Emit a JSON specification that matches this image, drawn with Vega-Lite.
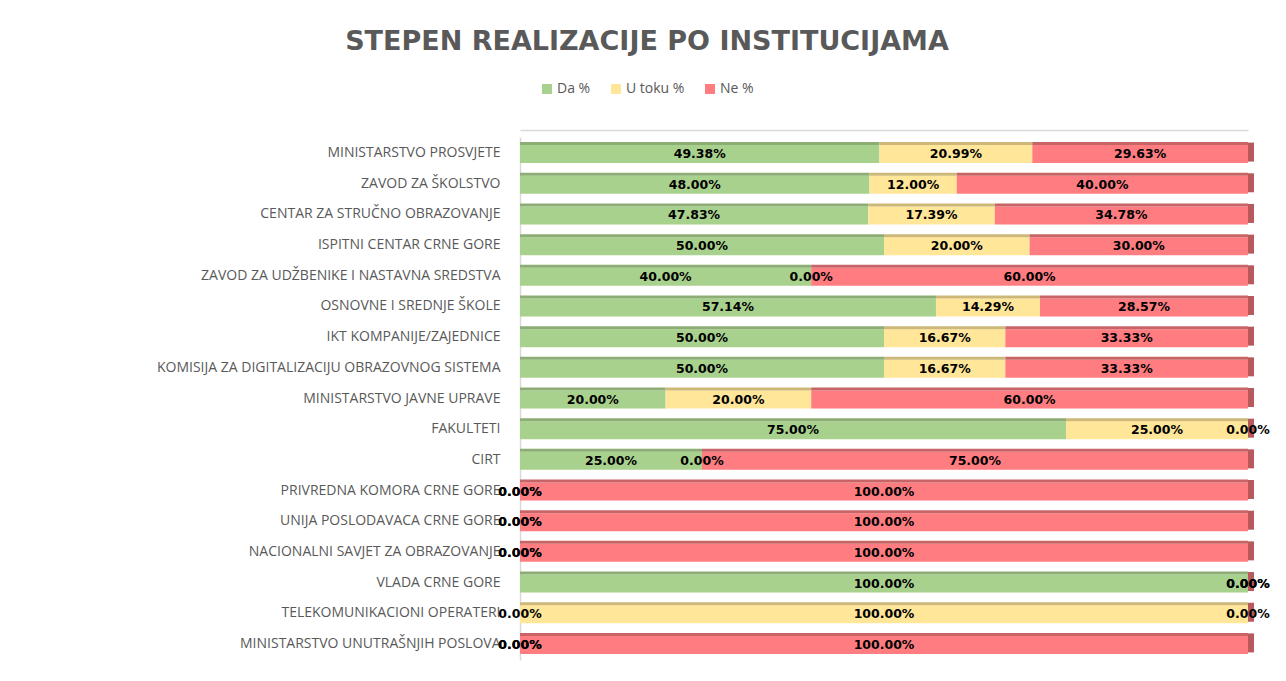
{
  "$schema": "https://vega.github.io/schema/vega-lite/v6.json",
  "autosize": "none",
  "width": 728,
  "height": 523,
  "padding": {"left": 520, "top": 137, "right": 38, "bottom": 21},
  "background": "white",
  "config": {"view": {"stroke": null}},
  "title": {
    "text": "STEPEN REALIZACIJE PO INSTITUCIJAMA",
    "font": "DejaVu Sans",
    "fontSize": 27,
    "fontWeight": "bold",
    "color": "#595959",
    "anchor": "middle",
    "frame": "group",
    "dx": -237,
    "offset": 26
  },
  "data": {"values": [
    {"inst": "MINISTARSTVO PROSVJETE", "series": "Da %", "ord": 1, "v": 0.4938},
    {"inst": "MINISTARSTVO PROSVJETE", "series": "U toku %", "ord": 2, "v": 0.2099},
    {"inst": "MINISTARSTVO PROSVJETE", "series": "Ne %", "ord": 3, "v": 0.2963},
    {"inst": "ZAVOD ZA ŠKOLSTVO", "series": "Da %", "ord": 1, "v": 0.48},
    {"inst": "ZAVOD ZA ŠKOLSTVO", "series": "U toku %", "ord": 2, "v": 0.12},
    {"inst": "ZAVOD ZA ŠKOLSTVO", "series": "Ne %", "ord": 3, "v": 0.40},
    {"inst": "CENTAR ZA STRUČNO OBRAZOVANJE", "series": "Da %", "ord": 1, "v": 0.4783},
    {"inst": "CENTAR ZA STRUČNO OBRAZOVANJE", "series": "U toku %", "ord": 2, "v": 0.1739},
    {"inst": "CENTAR ZA STRUČNO OBRAZOVANJE", "series": "Ne %", "ord": 3, "v": 0.3478},
    {"inst": "ISPITNI CENTAR CRNE GORE", "series": "Da %", "ord": 1, "v": 0.50},
    {"inst": "ISPITNI CENTAR CRNE GORE", "series": "U toku %", "ord": 2, "v": 0.20},
    {"inst": "ISPITNI CENTAR CRNE GORE", "series": "Ne %", "ord": 3, "v": 0.30},
    {"inst": "ZAVOD ZA UDŽBENIKE I NASTAVNA SREDSTVA", "series": "Da %", "ord": 1, "v": 0.40},
    {"inst": "ZAVOD ZA UDŽBENIKE I NASTAVNA SREDSTVA", "series": "U toku %", "ord": 2, "v": 0.0},
    {"inst": "ZAVOD ZA UDŽBENIKE I NASTAVNA SREDSTVA", "series": "Ne %", "ord": 3, "v": 0.60},
    {"inst": "OSNOVNE I SREDNJE ŠKOLE", "series": "Da %", "ord": 1, "v": 0.5714},
    {"inst": "OSNOVNE I SREDNJE ŠKOLE", "series": "U toku %", "ord": 2, "v": 0.1429},
    {"inst": "OSNOVNE I SREDNJE ŠKOLE", "series": "Ne %", "ord": 3, "v": 0.2857},
    {"inst": "IKT KOMPANIJE/ZAJEDNICE", "series": "Da %", "ord": 1, "v": 0.50},
    {"inst": "IKT KOMPANIJE/ZAJEDNICE", "series": "U toku %", "ord": 2, "v": 0.1667},
    {"inst": "IKT KOMPANIJE/ZAJEDNICE", "series": "Ne %", "ord": 3, "v": 0.3333},
    {"inst": "KOMISIJA ZA DIGITALIZACIJU OBRAZOVNOG SISTEMA", "series": "Da %", "ord": 1, "v": 0.50},
    {"inst": "KOMISIJA ZA DIGITALIZACIJU OBRAZOVNOG SISTEMA", "series": "U toku %", "ord": 2, "v": 0.1667},
    {"inst": "KOMISIJA ZA DIGITALIZACIJU OBRAZOVNOG SISTEMA", "series": "Ne %", "ord": 3, "v": 0.3333},
    {"inst": "MINISTARSTVO JAVNE UPRAVE", "series": "Da %", "ord": 1, "v": 0.20},
    {"inst": "MINISTARSTVO JAVNE UPRAVE", "series": "U toku %", "ord": 2, "v": 0.20},
    {"inst": "MINISTARSTVO JAVNE UPRAVE", "series": "Ne %", "ord": 3, "v": 0.60},
    {"inst": "FAKULTETI", "series": "Da %", "ord": 1, "v": 0.75},
    {"inst": "FAKULTETI", "series": "U toku %", "ord": 2, "v": 0.25},
    {"inst": "FAKULTETI", "series": "Ne %", "ord": 3, "v": 0.0},
    {"inst": "CIRT", "series": "Da %", "ord": 1, "v": 0.25},
    {"inst": "CIRT", "series": "U toku %", "ord": 2, "v": 0.0},
    {"inst": "CIRT", "series": "Ne %", "ord": 3, "v": 0.75},
    {"inst": "PRIVREDNA KOMORA CRNE GORE", "series": "Da %", "ord": 1, "v": 0.0},
    {"inst": "PRIVREDNA KOMORA CRNE GORE", "series": "U toku %", "ord": 2, "v": 0.0},
    {"inst": "PRIVREDNA KOMORA CRNE GORE", "series": "Ne %", "ord": 3, "v": 1.0},
    {"inst": "UNIJA POSLODAVACA CRNE GORE", "series": "Da %", "ord": 1, "v": 0.0},
    {"inst": "UNIJA POSLODAVACA CRNE GORE", "series": "U toku %", "ord": 2, "v": 0.0},
    {"inst": "UNIJA POSLODAVACA CRNE GORE", "series": "Ne %", "ord": 3, "v": 1.0},
    {"inst": "NACIONALNI SAVJET ZA OBRAZOVANJE", "series": "Da %", "ord": 1, "v": 0.0},
    {"inst": "NACIONALNI SAVJET ZA OBRAZOVANJE", "series": "U toku %", "ord": 2, "v": 0.0},
    {"inst": "NACIONALNI SAVJET ZA OBRAZOVANJE", "series": "Ne %", "ord": 3, "v": 1.0},
    {"inst": "VLADA CRNE GORE", "series": "Da %", "ord": 1, "v": 1.0},
    {"inst": "VLADA CRNE GORE", "series": "U toku %", "ord": 2, "v": 0.0},
    {"inst": "VLADA CRNE GORE", "series": "Ne %", "ord": 3, "v": 0.0},
    {"inst": "TELEKOMUNIKACIONI OPERATERI", "series": "Da %", "ord": 1, "v": 0.0},
    {"inst": "TELEKOMUNIKACIONI OPERATERI", "series": "U toku %", "ord": 2, "v": 1.0},
    {"inst": "TELEKOMUNIKACIONI OPERATERI", "series": "Ne %", "ord": 3, "v": 0.0},
    {"inst": "MINISTARSTVO UNUTRAŠNJIH POSLOVA", "series": "Da %", "ord": 1, "v": 0.0},
    {"inst": "MINISTARSTVO UNUTRAŠNJIH POSLOVA", "series": "U toku %", "ord": 2, "v": 0.0},
    {"inst": "MINISTARSTVO UNUTRAŠNJIH POSLOVA", "series": "Ne %", "ord": 3, "v": 1.0}
  ]},
  "transform": [
    {"stack": "v", "groupby": ["inst"], "sort": [{"field": "ord", "order": "ascending"}], "as": ["s0", "s1"]}
  ],
  "encoding": {
    "y": {
      "field": "inst",
      "type": "nominal",
      "sort": ["MINISTARSTVO PROSVJETE", "ZAVOD ZA ŠKOLSTVO", "CENTAR ZA STRUČNO OBRAZOVANJE", "ISPITNI CENTAR CRNE GORE", "ZAVOD ZA UDŽBENIKE I NASTAVNA SREDSTVA", "OSNOVNE I SREDNJE ŠKOLE", "IKT KOMPANIJE/ZAJEDNICE", "KOMISIJA ZA DIGITALIZACIJU OBRAZOVNOG SISTEMA", "MINISTARSTVO JAVNE UPRAVE", "FAKULTETI", "CIRT", "PRIVREDNA KOMORA CRNE GORE", "UNIJA POSLODAVACA CRNE GORE", "NACIONALNI SAVJET ZA OBRAZOVANJE", "VLADA CRNE GORE", "TELEKOMUNIKACIONI OPERATERI", "MINISTARSTVO UNUTRAŠNJIH POSLOVA"],
      "scale": {"paddingInner": 0.35, "paddingOuter": 0.2},
      "axis": {
        "title": null,
        "ticks": false,
        "grid": false,
        "domainColor": "#D9D9D9",
        "domainWidth": 1.5,
        "labelFont": "Open Sans",
        "labelFontSize": 14,
        "labelColor": "#595959",
        "labelPadding": 20,
        "labelLimit": 520
      }
    }
  },
  "layer": [
    {
      "mark": {"type": "bar", "height": 18, "yOffset": 1},
      "encoding": {
        "x": {
          "field": "s0",
          "type": "quantitative",
          "scale": {"domain": [0, 1], "nice": false},
          "axis": {"orient": "top", "title": null, "labels": false, "ticks": false, "grid": false, "domainColor": "#D9D9D9", "domainWidth": 1.5, "offset": 7}
        },
        "x2": {"field": "s1"},
        "color": {
          "field": "series",
          "type": "nominal",
          "scale": {"domain": ["Da %", "U toku %", "Ne %"], "range": ["#A9D18E", "#FFE699", "#FF7C80"]},
          "legend": {
            "title": null,
            "orient": "none",
            "legendX": 20,
            "legendY": -55,
            "direction": "horizontal",
            "symbolType": "square",
            "symbolSize": 100,
            "symbolStrokeWidth": 0,
            "labelFont": "Open Sans",
            "labelFontSize": 14,
            "labelColor": "#595959",
            "columnPadding": 18,
            "labelOffset": 3
          }
        }
      }
    },
    {
      "mark": {"type": "bar", "height": 3, "yOffset": -9.5},
      "encoding": {
        "x": {"field": "s0", "type": "quantitative", "scale": {"domain": [0, 1], "nice": false}},
        "x2": {"field": "s1"},
        "fill": {
          "field": "series",
          "type": "nominal",
          "scale": {"domain": ["Da %", "U toku %", "Ne %"], "range": ["#8CAD74", "#CDB878", "#C86466"]},
          "legend": null
        }
      }
    },
    {
      "transform": [{"filter": "datum.ord == 3"}],
      "mark": {"type": "tick", "orient": "vertical", "thickness": 6, "size": 19, "xOffset": 3, "yOffset": -1, "color": "#B85A5D", "opacity": 1},
      "encoding": {
        "x": {"field": "s1", "type": "quantitative", "scale": {"domain": [0, 1], "nice": false}}
      }
    },
    {
      "transform": [{"fold": ["s0", "s1"], "as": ["k", "pos"]}],
      "mark": {"type": "text", "font": "DejaVu Sans", "fontSize": 12.5, "fontWeight": "bold", "color": "#000000", "dy": 1},
      "encoding": {
        "x": {"field": "pos", "aggregate": "mean", "type": "quantitative", "scale": {"domain": [0, 1], "nice": false}},
        "detail": {"field": "series", "type": "nominal"},
        "text": {"field": "v", "type": "quantitative", "format": ".2%"}
      }
    }
  ]
}
